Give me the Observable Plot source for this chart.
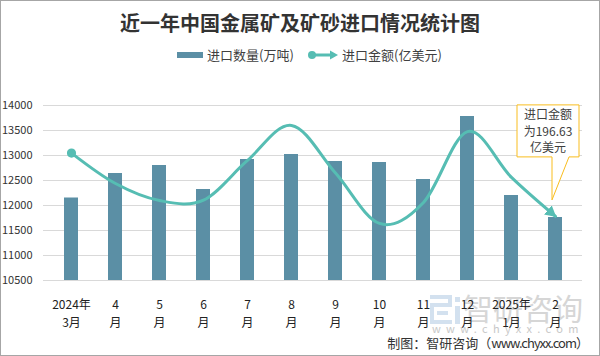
<!DOCTYPE html>
<html>
<head>
<meta charset="utf-8">
<script src="https://cdn.jsdelivr.net/npm/d3@7"></script>
<script src="https://cdn.jsdelivr.net/npm/@observablehq/plot@0.6"></script>
<style>
  html, body { margin: 0; padding: 0; background: #fff; }
  #frame { position: relative; width: 600px; height: 356px; overflow: hidden; background: #fff;
    font-family: "Noto Sans CJK SC", "Noto Sans", sans-serif; }
  #border { position: absolute; left: 0; top: 0; width: 600px; height: 356px; box-sizing: border-box;
    border: 1px solid #a6a6a6; pointer-events: none; z-index: 5; }
  #title { position: absolute; left: 0; top: 8px; width: 600px; text-align: center; font-size: 20px;
    font-weight: 700; color: #333; line-height: 30px; }
  .leg { position: absolute; top: 46px; height: 18px; line-height: 18px; font-size: 13px; color: #404040; white-space: nowrap; }
  #chart { position: absolute; left: 0; top: 70px; z-index: 2; }
  #wm { position: absolute; left: 0; top: 0; z-index: 1; }
  #footer { position: absolute; right: 11px; top: 335px; font-size: 13px; line-height: 16px; color: #333; white-space: nowrap; z-index: 3; }
  #footer .url { letter-spacing: -1px; }
</style>
</head>
<body>
<div id="frame">
  <div id="title"></div>
  <div class="leg" id="leg1" style="left:177px;"></div>
  <div class="leg" id="leg2" style="left:306px;"></div>
  <div id="wm"></div>
  <div id="chart"></div>
  <div id="footer"></div>
  <div id="border"></div>
</div>
<script>
// ---- data ----
const titleText = "近一年中国金属矿及矿砂进口情况统计图";
const seriesNames = ["进口数量(万吨)", "进口金额(亿美元)"];
const months = ["2024年3月","2024年4月","2024年5月","2024年6月","2024年7月","2024年8月",
                "2024年9月","2024年10月","2024年11月","2024年12月","2025年1月","2025年2月"];
const tickLabels = ["2024年\n3月","4\n月","5\n月","6\n月","7\n月","8\n月",
                    "9\n月","10\n月","11\n月","12\n月","2025年\n1月","2\n月"];
const volume = [12150, 12640, 12800, 12320, 12920, 13020, 12880, 12860, 12520, 13780, 12200, 11760];
const amount = [232.8, 215.4, 205.7, 205.9, 228.6, 248.6, 221.4, 192.6, 204.6, 245.1, 218.9, 196.63];
const yTicks = [10500, 11000, 11500, 12000, 12500, 13000, 13500, 14000];
const amountAxis = [160, 260]; // hidden secondary axis range
const calloutLines = ["进口金额", "为" + amount[amount.length - 1], "亿美元"];
const footerPrefix = "制图：智研咨询（";
const footerUrl = "www.chyxx.com";
const footerSuffix = "）";

// ---- styles ----
const barColor = "#5b8fa5";
const lineColor = "#56bdb3";
const font = "\"Noto Sans CJK SC\", \"Noto Sans\", sans-serif";

document.getElementById("title").textContent = titleText;
document.getElementById("footer").innerHTML = `${footerPrefix}<span class="url">${footerUrl}</span>${footerSuffix}`;
document.getElementById("leg1").innerHTML =
  `<span style="display:inline-block;width:26px;height:6px;background:${barColor};vertical-align:middle;margin-right:4px;position:relative;top:-1px"></span>${seriesNames[0]}`;
document.getElementById("leg2").innerHTML =
  `<svg width="34" height="12" style="vertical-align:middle;margin-right:2px;position:relative;top:-1px">
     <line x1="6" y1="6" x2="26" y2="6" stroke="${lineColor}" stroke-width="3"/>
     <circle cx="6" cy="6" r="4" fill="${lineColor}"/>
     <path d="M24,1.5L32,6L24,10.5Z" fill="${lineColor}"/>
   </svg>${seriesNames[1]}`;

// watermark
document.getElementById("wm").innerHTML =
  `<svg width="600" height="356">
     <g fill="#d3e1ef">
       <rect x="430" y="295" width="22" height="4"/>
       <rect x="448" y="295" width="4" height="12"/>
       <rect x="430" y="303" width="18" height="4"/>
       <rect x="430" y="303" width="4" height="21"/>
       <rect x="430" y="320" width="22" height="4"/>
       <rect x="455" y="297" width="5" height="5"/>
       <rect x="455" y="306" width="5" height="18"/>
       <rect x="437" y="311" width="11" height="4"/>
     </g>
     <text x="463" y="320" font-size="30" fill="#d6d6d6" style="font-family:${font}">智研咨询</text>
     <text x="432" y="333" font-size="11" fill="#c8c8c8" letter-spacing="5.3" style="font-family:${font}">www.chyxx.com</text>
   </svg>`;

const data = months.map((m, i) => ({month: m, volume: volume[i], amount: amount[i]}));
const yMin = yTicks[0], yMax = yTicks[yTicks.length - 1];
const toPrimary = v => yMin + (v - amountAxis[0]) / (amountAxis[1] - amountAxis[0]) * (yMax - yMin);

const plot = Plot.plot({
  width: 600, height: 265,
  marginTop: 35, marginBottom: 55, marginLeft: 43, marginRight: 18,
  style: {fontFamily: font, background: "transparent", overflow: "visible"},
  x: {domain: months, paddingInner: 0.69, paddingOuter: 0.345, axis: null, label: null},
  y: {domain: [yMin, yMax], axis: null, label: null},
  marks: [
    Plot.gridY(yTicks, {stroke: "#d9d9d9", strokeOpacity: 1, strokeWidth: 1}),
    Plot.axisY(yTicks, {tickSize: 0, tickPadding: 11, fontSize: 11, fill: "#333", label: null,
      tickFormat: d => String(d)}),
    Plot.axisX({tickSize: 0, tickPadding: 15, fontSize: 12, lineHeight: 1.55, fill: "#222", label: null,
      tickFormat: m => tickLabels[months.indexOf(m)]}),
    Plot.barY(data, {x: "month", y1: () => yMin, y2: "volume", fill: barColor}),
    Plot.line(data, {x: "month", y: d => toPrimary(d.amount), curve: "cardinal", tension: 0,
      stroke: lineColor, strokeWidth: 3})
  ]
});
document.getElementById("chart").appendChild(plot);

// markers (start dot, end arrow)
const svg = d3.select(plot);
const defs = svg.append("defs");
defs.append("marker").attr("id", "mStart").attr("viewBox", "-5 -5 10 10")
  .attr("markerWidth", 10).attr("markerHeight", 10).attr("markerUnits", "userSpaceOnUse")
  .append("circle").attr("r", 4.6).attr("fill", lineColor);
defs.append("marker").attr("id", "mEnd").attr("viewBox", "0 -6 11 12").attr("refX", 10).attr("refY", 0)
  .attr("markerWidth", 11).attr("markerHeight", 12).attr("markerUnits", "userSpaceOnUse").attr("orient", "auto")
  .append("path").attr("d", "M0,-6L11,0L0,6Z").attr("fill", lineColor);
svg.selectAll('g[aria-label="line"] path').attr("marker-start", "url(#mStart)").attr("marker-end", "url(#mEnd)");

// callout anchored to the last data point
const xs = plot.scale("x"), ys = plot.scale("y");
const last = data[data.length - 1];
const px = xs.apply(last.month) + (xs.bandwidth || 0) / 2;
const py = ys.apply(toPrimary(last.amount));
const L = px - 38, R = px + 24, T = py - 111, B = py - 59;
const tipX = px - 3, tipY = py - 16, baseR = px + 14;
const g = svg.append("g");
g.append("path")
  .attr("d", `M${L},${T}H${R}V${B}H${baseR}L${tipX},${tipY}L${tipX},${B}H${L}Z`)
  .attr("fill", "#fff").attr("stroke", "#f9bd1e").attr("stroke-width", 1);
g.append("text").attr("text-anchor", "middle").attr("font-size", 12).attr("fill", "#404040")
  .selectAll("tspan").data(calloutLines).join("tspan")
  .attr("x", (L + R) / 2).attr("y", (d, i) => T + 14.5 + i * 16.5).text(d => d);
</script>
</body>
</html>
